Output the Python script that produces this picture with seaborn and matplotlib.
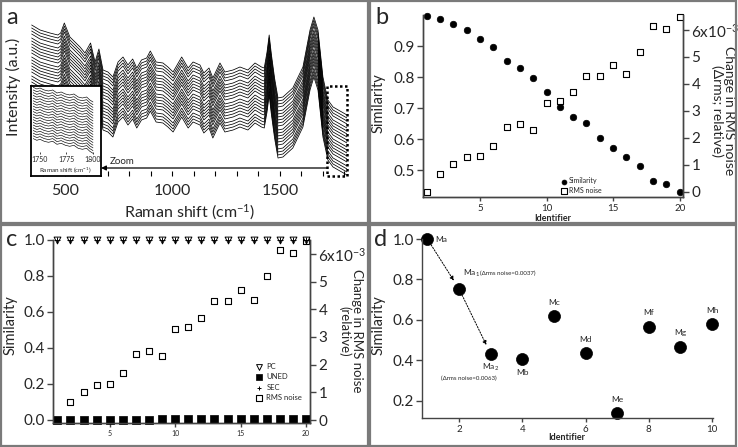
import numpy as np
import pandas as pd
import matplotlib
matplotlib.use('Agg')
import matplotlib.pyplot as plt
import seaborn as sns
from matplotlib.patches import Rectangle
from matplotlib.ticker import MultipleLocator, FuncFormatter

# ---------------- data ----------------
# panel a: representative (top) Raman spectrum
raman_shift = [345, 384, 430, 467, 480, 497, 523, 570, 593, 619, 640, 658, 677, 700, 723,
               747, 770, 793, 815, 834, 856, 880, 897, 924, 956, 979, 1003, 1043, 1073, 1096,
               1128, 1146, 1170, 1188, 1221, 1244, 1282, 1314, 1351, 1384, 1414, 1427, 1440,
               1450, 1460, 1475, 1491, 1514, 1560, 1607, 1640, 1658, 1677, 1700, 1723, 1747,
               1812]
top_intensity = [151, 146, 143, 141, 143, 153, 139, 129, 123, 133, 114, 127, 106, 104, 99,
                 114, 119, 111, 117, 108, 116, 118, 125, 114, 113, 109, 104, 119, 108, 114,
                 111, 103, 108, 98, 113, 104, 106, 109, 106, 113, 109, 108, 124,
                 141, 122, 98, 78, 79, 88, 109, 146, 159, 146, 99, 76, 69,
                 61]
spectrum_offsets = [0, 3, 6, 9, 13, 16, 19, 22, 25, 28, 32, 35, 38, 41, 44, 47, 51, 54, 57, 60]

# inset (zoom ~1743-1800 cm-1)
inset_shift = [1743, 1747, 1750, 1754, 1758, 1762, 1766, 1770, 1774, 1778, 1782, 1786,
               1790, 1794, 1797, 1800]
inset_top = [89, 87, 88, 86, 85, 86, 83, 84, 82, 81, 82, 79, 78, 79, 76, 74]
inset_offsets = [0, 2.7, 5.4, 8.1, 10.8, 13.5, 16.2, 18.9, 21.6, 24.3, 27, 29.7, 32.4,
                 35.1, 37.8, 40.5, 43.2, 45.9, 48.6, 51.3]

# panel b / c
identifier = list(range(1, 21))
similarity_b = [0.997, 0.986, 0.970, 0.952, 0.924, 0.898, 0.852, 0.828, 0.798, 0.753,
                0.704, 0.672, 0.653, 0.604, 0.572, 0.543, 0.514, 0.466, 0.455, 0.430]
rms_noise_e3 = [0.00, 0.64, 1.02, 1.28, 1.31, 1.70, 2.38, 2.50, 2.30, 3.28,
                3.35, 3.69, 4.30, 4.30, 4.71, 4.35, 5.19, 6.15, 6.03, 6.48]
sim_pc = [1.0, 1.0, 1.0, 1.0, 1.0, 1.0, 1.0, 1.0, 1.0, 1.0,
          1.0, 1.0, 1.0, 1.0, 1.0, 1.0, 1.0, 1.0, 1.0, 1.0]
sim_uned = [0.000, 0.000, 0.001, 0.001, 0.001, 0.002, 0.002, 0.002, 0.003, 0.003,
            0.004, 0.004, 0.005, 0.005, 0.006, 0.006, 0.007, 0.007, 0.008, 0.008]
sim_sec = [1.0, 1.0, 1.0, 1.0, 1.0, 1.0, 1.0, 1.0, 1.0, 1.0,
           1.0, 1.0, 1.0, 1.0, 1.0, 1.0, 1.0, 1.0, 1.0, 1.0]

# panel d
identifier_d = [1, 2, 3, 4, 5, 6, 7, 8, 9, 10]
similarity_d = [1.0, 0.754, 0.433, 0.408, 0.620, 0.436, 0.139, 0.567, 0.468, 0.578]
labels_d = ['Ma', 'Ma$_1$', 'Ma$_2$', 'Mb', 'Mc', 'Md', 'Me', 'Mf', 'Mg', 'Mh']

# ---------------- style ----------------
sns.set_style('ticks')
plt.rcParams['font.family'] = ['Lato', 'DejaVu Sans']
plt.rcParams['mathtext.fontset'] = 'custom'
plt.rcParams['mathtext.rm'] = 'Lato'
plt.rcParams['mathtext.it'] = 'Lato:italic'
plt.rcParams['mathtext.bf'] = 'Lato:bold'

W, H = 738, 447
fig = plt.figure(figsize=(W / 100, H / 100), dpi=100)
SP = '#444444'


def rect(l, t, r, b):
    return [l / W, 1 - b / H, (r - l) / W, (b - t) / H]


def fxy(x, y):
    return (x / W, 1 - y / H)


def style_spines(ax, show):
    for k, s in ax.spines.items():
        s.set_visible(k in show)
        s.set_color(SP)
        s.set_linewidth(1.0)


def rms_fmt(v, p):
    return '6x10$^{-3}$' if round(v) == 6 else f'{int(round(v))}'


# ---------------- panel a ----------------
ax_a = fig.add_axes(rect(31, 15, 347, 176))
rows = []
for ci, off in enumerate(spectrum_offsets):
    for s, v in zip(raman_shift, top_intensity):
        rows.append({'shift': s, 'intensity': v - off, 'curve': ci})
df_a = pd.DataFrame(rows)
sns.lineplot(data=df_a, x='shift', y='intensity', units='curve', estimator=None,
             color='black', lw=0.55, ax=ax_a, legend=False, sort=False)
ax_a.set_xlim(342, 1812)
ax_a.set_ylim(0, 161)
style_spines(ax_a, [])
ax_a.set_yticks([])
ax_a.set_xticks([500, 1000, 1500])
ax_a.xaxis.set_minor_locator(MultipleLocator(100))
ax_a.tick_params(axis='x', which='both', direction='in', length=3.5, width=0.8,
                 color='black', labelsize=11.5, pad=6)
ax_a.set_xlabel('Raman shift (cm$^{-1}$)', fontsize=11.5)
ax_a.set_ylabel('Intensity (a.u.)', fontsize=11.5)
ax_a.xaxis.set_label_coords(*fxy(190, 212), transform=fig.transFigure)
ax_a.xaxis.label.set_va('center')
ax_a.yaxis.set_label_coords(*fxy(13, 87), transform=fig.transFigure)
ax_a.yaxis.label.set_va('center')
ax_a.add_patch(Rectangle((1720, 0), 92, 90, fill=False, ls=(0, (1, 1)), lw=1.8,
                         ec='black', clip_on=False, zorder=5))
ax_a.annotate('', xy=(668, 8), xytext=(1720, 8),
              arrowprops=dict(arrowstyle='-|>', color='black', lw=0.9, mutation_scale=7,
                              shrinkA=0, shrinkB=0), annotation_clip=False)
ax_a.text(709, 14, 'Zoom', fontsize=7, va='center', ha='left')

# inset frame + inset
ax_if = fig.add_axes(rect(31, 86, 101, 176), zorder=3)
ax_if.set_facecolor('white')
ax_if.set_xticks([])
ax_if.set_yticks([])
for s in ax_if.spines.values():
    s.set_visible(True)
    s.set_color('black')
    s.set_linewidth(1.3)

ax_in = fig.add_axes(rect(33, 86, 100, 154), zorder=4)
ax_in.set_facecolor('none')
rows = []
for ci, off in enumerate(inset_offsets):
    for s, v in zip(inset_shift, inset_top):
        rows.append({'shift': s, 'intensity': v - off, 'curve': ci})
df_in = pd.DataFrame(rows)
sns.lineplot(data=df_in, x='shift', y='intensity', units='curve', estimator=None,
             color='black', lw=0.45, ax=ax_in, legend=False, sort=False)
ax_in.set_xlim(1743.4, 1806.6)
ax_in.set_ylim(22, 90)
style_spines(ax_in, [])
ax_in.set_yticks([])
ax_in.set_ylabel('')
ax_in.set_xticks([1750, 1775, 1800])
ax_in.tick_params(axis='x', direction='in', length=1.5, width=0.6, labelsize=5, pad=1.5)
ax_in.set_xlabel('Raman shift (cm$^{-1}$)', fontsize=4.5)
ax_in.xaxis.set_label_coords(*fxy(65, 170), transform=fig.transFigure)
ax_in.xaxis.label.set_va('center')

# ---------------- panel b ----------------
ax_b = fig.add_axes(rect(423, 15, 683, 197))
df_b = pd.DataFrame({'Identifier': identifier, 'Similarity': similarity_b, 'RMS': rms_noise_e3})
sns.scatterplot(data=df_b, x='Identifier', y='Similarity', ax=ax_b, color='black',
                edgecolor='black', s=22, linewidth=0.5, legend=False, clip_on=False)
ax_b.set_xlim(0.72, 20.25)
ax_b.set_ylim(0.413, 1.0)
ax_b.set_yticks([0.5, 0.6, 0.7, 0.8, 0.9])
ax_b.set_xticks([5, 10, 15, 20])
ax_b.yaxis.set_major_formatter(FuncFormatter(lambda v, p: f'{v:.1f}'))
style_spines(ax_b, ['left', 'bottom', 'right'])
ax_b.tick_params(axis='y', length=4, width=1, color=SP, labelsize=11, pad=2)
ax_b.tick_params(axis='x', length=3, width=1, color=SP, labelsize=7, pad=2)
ax_b.set_xlabel('Identifier', fontsize=6.5, fontweight='bold')
ax_b.xaxis.set_label_coords(*fxy(553, 218), transform=fig.transFigure)
ax_b.xaxis.label.set_va('center')
ax_b.set_ylabel('Similarity', fontsize=10.5)
ax_b.yaxis.set_label_coords(*fxy(379, 103), transform=fig.transFigure)
ax_b.yaxis.label.set_va('center')

ax_b2 = ax_b.twinx()
sns.scatterplot(data=df_b, x='Identifier', y='RMS', ax=ax_b2, marker='s', color='white',
                edgecolor='black', s=24, linewidth=0.8, legend=False, clip_on=False)
ax_b2.set_ylim(-0.197, 6.55)
ax_b2.set_yticks([0, 1, 2, 3, 4, 5, 6])
ax_b2.yaxis.set_major_formatter(FuncFormatter(rms_fmt))
style_spines(ax_b2, ['left', 'bottom', 'right'])
ax_b2.tick_params(axis='y', length=4, width=1, color=SP, labelsize=11, pad=2)
ax_b2.set_ylabel('Change in RMS noise\n(\u0394rms; relative)', fontsize=10,
                 rotation=270, linespacing=1.0)
ax_b2.yaxis.set_label_coords(*fxy(723, 111), transform=fig.transFigure)
ax_b2.yaxis.label.set_va('center')
ax_b2.yaxis.label.set_ha('center')
ax_b2.legend([ax_b.collections[0], ax_b2.collections[0]], ['Similarity', 'RMS noise'],
             loc='upper left', bbox_to_anchor=fxy(556, 174), bbox_transform=fig.transFigure,
             frameon=False, fontsize=5, handletextpad=0.2, borderpad=0, labelspacing=0.35,
             markerscale=0.75, handlelength=1.2)

# ---------------- panel c ----------------
ax_c = fig.add_axes(rect(53, 240, 310, 423))
df_c = pd.DataFrame({'Identifier': identifier, 'PC': sim_pc, 'UNED': sim_uned,
                     'SEC': sim_sec, 'RMS': rms_noise_e3})
ax_c2 = ax_c.twinx()
sns.scatterplot(data=df_c, x='Identifier', y='RMS', ax=ax_c2, marker='s', color='white',
                edgecolor='black', s=24, linewidth=0.8, legend=False, clip_on=False)
sns.scatterplot(data=df_c, x='Identifier', y='UNED', ax=ax_c, marker='s', color='black',
                edgecolor='black', s=30, linewidth=0.5, legend=False, clip_on=False)
sns.scatterplot(data=df_c, x='Identifier', y='PC', ax=ax_c, marker='v', color='white',
                edgecolor='black', s=24, linewidth=0.7, legend=False, clip_on=False)
sns.scatterplot(data=df_c, x='Identifier', y='SEC', ax=ax_c, marker='+', color='black',
                s=16, linewidth=0.7, legend=False, clip_on=False)
ax_c.set_zorder(ax_c2.get_zorder() + 1)
ax_c.patch.set_visible(False)
ax_c.set_xlim(0.67, 20.3)
ax_c.set_ylim(-0.017, 1.0)
ax_c.set_yticks([0.0, 0.2, 0.4, 0.6, 0.8, 1.0])
ax_c.set_xticks([5, 10, 15, 20])
ax_c.yaxis.set_major_formatter(FuncFormatter(lambda v, p: f'{v:.1f}'))
style_spines(ax_c, ['left', 'bottom', 'right'])
ax_c.tick_params(axis='y', length=4, width=1, color=SP, labelsize=11, pad=2)
ax_c.tick_params(axis='x', length=3, width=1, color=SP, labelsize=5, pad=2)
ax_c.set_xlabel('')
ax_c.set_ylabel('Similarity', fontsize=10.5)
ax_c.yaxis.set_label_coords(*fxy(11, 325), transform=fig.transFigure)
ax_c.yaxis.label.set_va('center')

ax_c2.set_ylim(-0.108, 6.5)
ax_c2.set_yticks([0, 1, 2, 3, 4, 5, 6])
ax_c2.yaxis.set_major_formatter(FuncFormatter(rms_fmt))
style_spines(ax_c2, ['left', 'bottom', 'right'])
ax_c2.tick_params(axis='y', length=4, width=1, color=SP, labelsize=11, pad=2)
ax_c2.set_ylabel('Change in RMS noise\n(relative)', fontsize=9.5, rotation=270,
                 linespacing=1.0)
ax_c2.yaxis.set_label_coords(*fxy(351, 331), transform=fig.transFigure)
ax_c2.yaxis.label.set_va('center')
ax_c2.yaxis.label.set_ha('center')
ax_c.legend([ax_c.collections[1], ax_c.collections[0], ax_c.collections[2],
             ax_c2.collections[0]], ['PC', 'UNED', 'SEC', 'RMS noise'],
            loc='upper left', bbox_to_anchor=fxy(251, 359), bbox_transform=fig.transFigure,
            frameon=False, fontsize=5.5, handletextpad=0.3, borderpad=0, labelspacing=0.45,
            markerscale=0.85, handlelength=1.2)

# ---------------- panel d ----------------
ax_d = fig.add_axes(rect(422, 239, 713, 418))
df_d = pd.DataFrame({'Identifier': identifier_d, 'Similarity': similarity_d})
sns.scatterplot(data=df_d, x='Identifier', y='Similarity', ax=ax_d, color='black',
                edgecolor='black', s=75, linewidth=0.5, legend=False, clip_on=False)
ax_d.set_xlim(0.83, 10.03)
ax_d.set_ylim(0.116, 1.0)
ax_d.set_yticks([0.2, 0.4, 0.6, 0.8, 1.0])
ax_d.set_xticks([2, 4, 6, 8, 10])
ax_d.yaxis.set_major_formatter(FuncFormatter(lambda v, p: f'{v:.1f}'))
style_spines(ax_d, ['left', 'bottom'])
ax_d.tick_params(axis='y', length=4, width=1, color=SP, labelsize=11, pad=2)
ax_d.tick_params(axis='x', length=3, width=1, color=SP, labelsize=7, pad=2)
ax_d.set_xlabel('Identifier', fontsize=6.5, fontweight='bold')
ax_d.xaxis.set_label_coords(*fxy(567, 437), transform=fig.transFigure)
ax_d.xaxis.label.set_va('center')
ax_d.set_ylabel('Similarity', fontsize=10.5)
ax_d.yaxis.set_label_coords(*fxy(379, 325), transform=fig.transFigure)
ax_d.yaxis.label.set_va('center')

lab_fs = 6
for i, (x, y, lab) in enumerate(zip(identifier_d, similarity_d, labels_d)):
    if lab == 'Ma':
        ax_d.annotate(lab, (x, y), xytext=(6, 0), textcoords='offset points',
                      fontsize=lab_fs, ha='left', va='center')
    elif i == 1:
        ax_d.annotate(lab, (x, y), xytext=(3, 11), textcoords='offset points',
                      fontsize=lab_fs, ha='left', va='center')
        ax_d.annotate('(\u0394rms noise=0.0037)', (x, y), xytext=(15, 11),
                      textcoords='offset points', fontsize=4.4, ha='left', va='center')
    elif i == 2:
        ax_d.annotate(lab, (x, y), xytext=(0, -10), textcoords='offset points',
                      fontsize=lab_fs, ha='center', va='center')
        ax_d.annotate('(\u0394rms noise=0.0063)', (x, y), xytext=(-16, -17.5),
                      textcoords='offset points', fontsize=4.4, ha='center', va='center')
    elif lab == 'Mb':
        ax_d.annotate(lab, (x, y), xytext=(0, -10), textcoords='offset points',
                      fontsize=lab_fs, ha='center', va='center')
    else:
        ax_d.annotate(lab, (x, y), xytext=(0, 10), textcoords='offset points',
                      fontsize=lab_fs, ha='center', va='center')

for a_i, b_i in [(0, 1), (1, 2)]:
    ax_d.annotate('', xy=(identifier_d[b_i], similarity_d[b_i]),
                  xytext=(identifier_d[a_i], similarity_d[a_i]),
                  arrowprops=dict(arrowstyle='-|>', color='black', lw=0.7, ls=(0, (1.5, 1.5)),
                                  mutation_scale=6, shrinkA=5, shrinkB=7))

# ---------------- panel letters & borders ----------------
for lx, ly, t in [(12, 17, 'a'), (382, 17, 'b'), (12, 240, 'c'), (381, 240, 'd')]:
    fig.text(*fxy(lx, ly), t, fontsize=17, ha='center', va='center')

for (l, t, r, b) in [(1, 1, 368, 223), (370, 1, 736, 223), (1, 225, 368, 446),
                     (370, 225, 736, 446)]:
    fig.add_artist(Rectangle(fxy(l, b), (r - l) / W, (b - t) / H, transform=fig.transFigure,
                             fill=False, ec='#7a7a7a', lw=1.6))

fig.savefig('out.png', dpi=100)
